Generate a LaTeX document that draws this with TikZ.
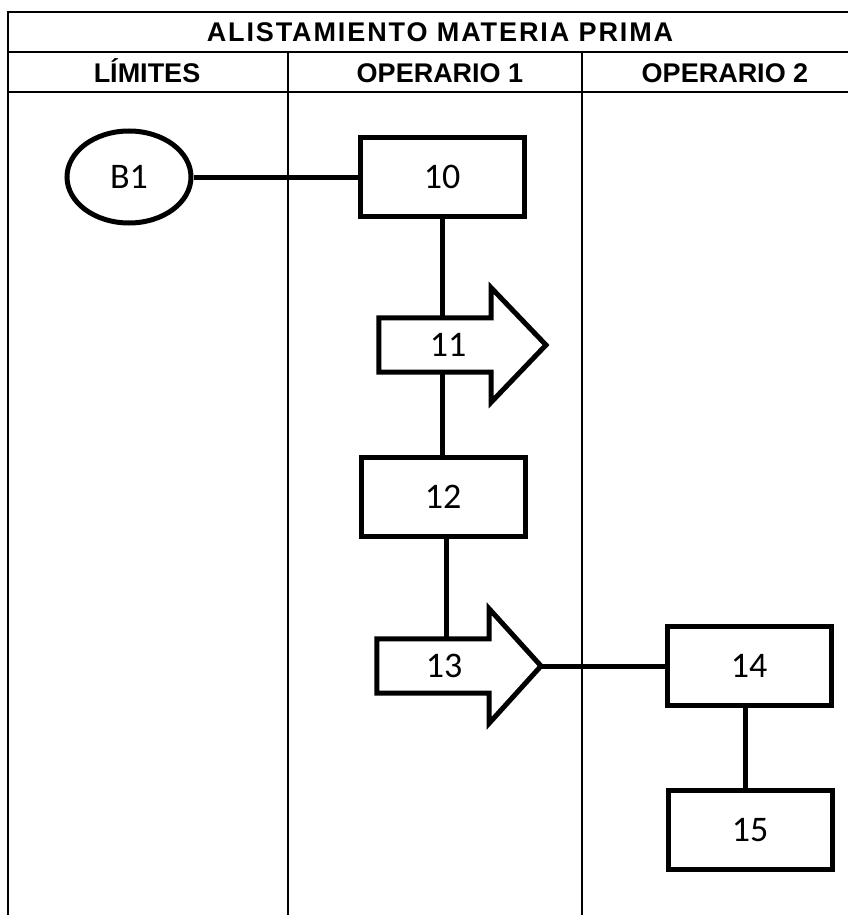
\documentclass[tikz,border=0pt]{standalone}
\usepackage{fontspec}
\setmainfont{Carlito}
\newfontfamily\titlefont[LetterSpace=7]{Liberation Sans}
\newfontfamily\headfont{Liberation Sans}
\usetikzlibrary{shapes.geometric,calc}
\begin{document}
\begin{tikzpicture}[x=1pt,y=-1pt,
  rule/.style={line width=2.6pt},
  lane/.style={line width=1.5pt},
  titletext/.style={font=\titlefont\bfseries\fontsize{27}{27}\selectfont, inner sep=0pt, anchor=base},
  headtext/.style={font=\headfont\bfseries\fontsize{27}{27}\selectfont, inner sep=0pt, anchor=base},
  numtext/.style={font=\fontsize{36}{36}\selectfont, inner sep=0pt},
  stepbox/.style={draw, line width=5pt, minimum width=164pt, minimum height=79pt,
    font=\fontsize{36}{36}\selectfont},
  limit/.style={draw, ellipse, line width=5pt, minimum width=124pt, minimum height=92pt,
    inner sep=0pt, font=\fontsize{36}{36}\selectfont},
  arrowbody/.style={minimum width=112pt, minimum height=54pt, inner sep=0pt},
  outline/.style={line width=5pt, line join=miter, fill=white},
  link/.style={line width=5pt}]
\useasboundingbox (0,0) rectangle (848,915);

% table frame
\draw[rule] (848,12) -- (8,12) -- (8,915);
\draw[rule] (8,52) -- (848,52);
\draw[rule] (8,92) -- (848,92);
\draw[lane] (288,52) -- (288,915);
\draw[lane] (582,52) -- (582,915);

\node[titletext] (title) at (440,42) {ALISTAMIENTO MATERIA PRIMA};
\node[headtext] (hlim) at (147,83) {LÍMITES};
\node[headtext] (hop1) at (440,83) {OPERARIO 1};
\node[headtext] (hop2) at (725,83) {OPERARIO 2};

% process steps
\node[limit] (b1) at (129,177) {B1};
\node[stepbox] (n10) at (442,177) {10};
\node[stepbox] (n12) at (443,497) {12};
\node[stepbox] (n14) at (749,666) {14};
\node[stepbox] (n15) at (750,830) {15};

% transport arrows
\node[arrowbody] (a11) at (435,345) {};
\node[arrowbody] (a13) at (433,666) {};
\coordinate (tip11) at (546,345);
\coordinate (tip13) at (541,666);

% connectors
\draw[link] (b1.east) -- (n10.west);
\draw[link] (n10.south) -- (n10.south |- a11.north);
\draw[link] (n10.south |- a11.south) -- (n10.south |- n12.north);
\draw[link] (n12.south -| 446,0) -- (a13.north -| 446,0);
\draw[link] (tip13) -- (n14.west);
\draw[link] (n14.south -| 745,0) -- (n15.north -| 745,0);

% arrow outlines
\draw[outline] (a11.north west) -- (a11.north east) -- ++(0,-30) -- (tip11)
  -- ($(a11.south east)+(0,30)$) -- (a11.south east) -- (a11.south west) -- cycle;
\draw[outline] (a13.north west) -- (a13.north east) -- ++(0,-30) -- (tip13)
  -- ($(a13.south east)+(0,30)$) -- (a13.south east) -- (a13.south west) -- cycle;
\node[numtext] (t11) at ([xshift=13pt]a11.center) {11};
\node[numtext] (t13) at ([xshift=11pt]a13.center) {13};
\end{tikzpicture}
\end{document}
